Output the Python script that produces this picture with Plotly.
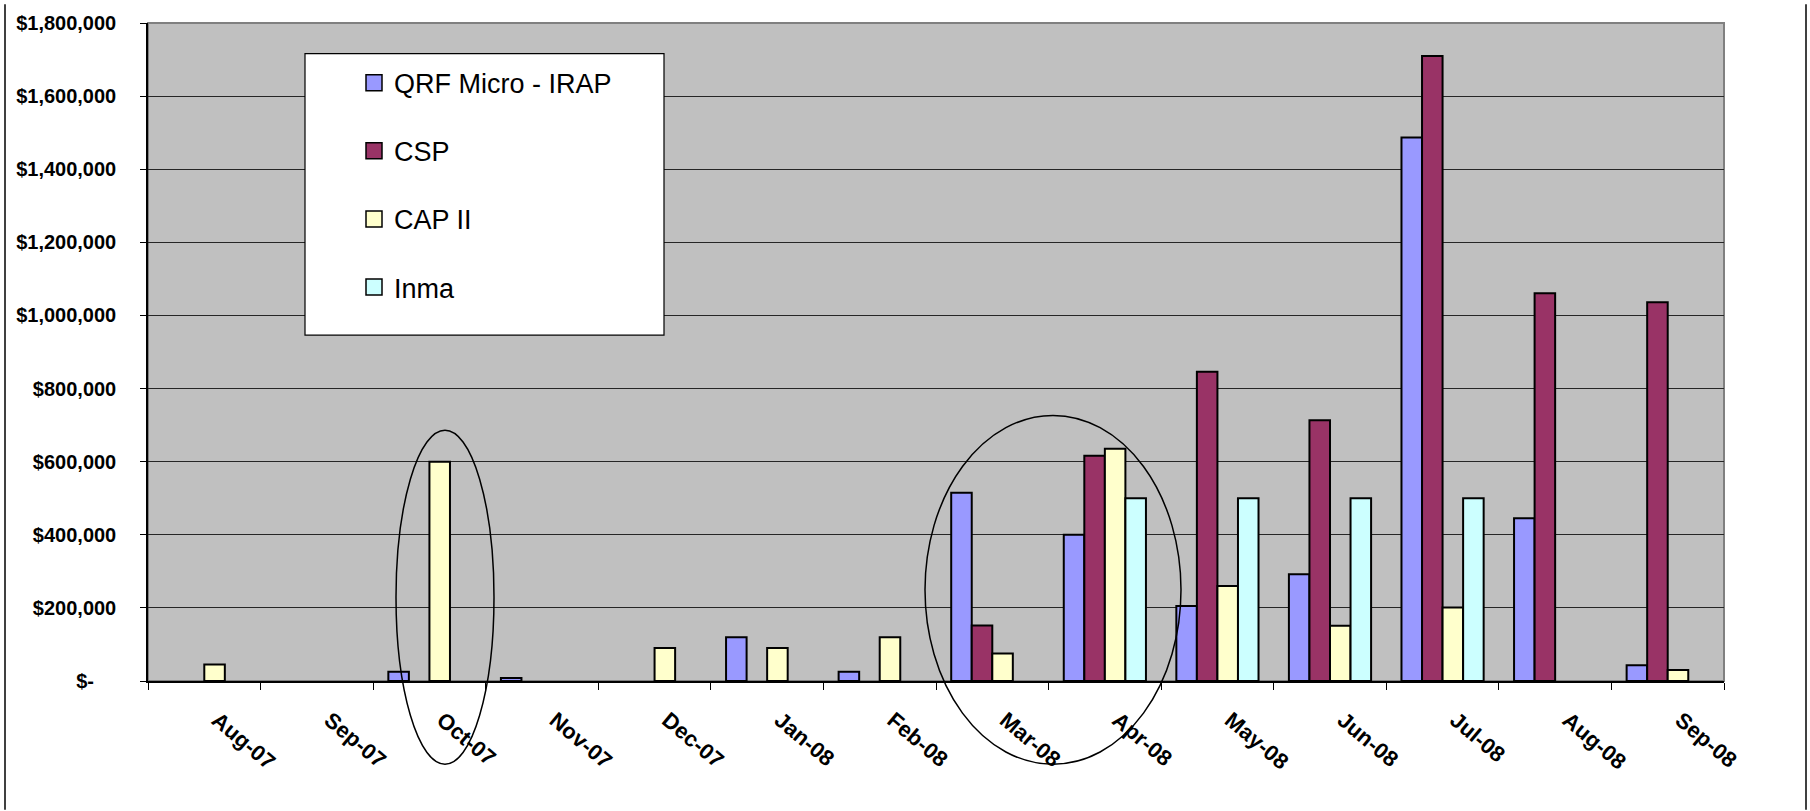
import plotly.graph_objects as go

months = ["Aug-07", "Sep-07", "Oct-07", "Nov-07", "Dec-07", "Jan-08", "Feb-08",
          "Mar-08", "Apr-08", "May-08", "Jun-08", "Jul-08", "Aug-08", "Sep-08"]

# None = no bar that month
qrf_irap = [None, None, 25000, 8000, None, 120000, 25000,
            515000, 400000, 205000, 292000, 1487000, 445000, 43000]
csp = [None, None, None, None, None, None, None,
       152000, 616000, 846000, 713000, 1710000, 1061000, 1036000]
cap_ii = [45000, None, 600000, None, 90000, 90000, 120000,
          75000, 635000, 260000, 151000, 201000, None, 30000]
inma = [None, None, None, None, None, None, None,
        None, 500000, 500000, 500000, 500000, None, None]

y_ticks = [0, 200000, 400000, 600000, 800000, 1000000, 1200000, 1400000, 1600000, 1800000]
y_labels = ["$-\u00a0\u00a0\u00a0\u00a0"] + [f"${v:,}" for v in y_ticks[1:]]

series = [
    ("QRF Micro - IRAP", qrf_irap, "#9999FF"),
    ("CSP", csp, "#993366"),
    ("CAP II", cap_ii, "#FFFFCC"),
    ("Inma", inma, "#CCFFFF"),
]

FONT = "Liberation Sans, Arial, sans-serif"

# plot area in pixels: x 148..1724, y 17..681
W, H = 1810, 811
L, R, T, B = 148, 1724, 17, 681


def px(x):
    return (x - L) / (R - L)


def py(y):
    return (B - y) / (B - T)


fig = go.Figure()

for name, vals, color in series:
    fig.add_trace(go.Bar(
        x=months, y=vals, name=name,
        marker=dict(color=color, line=dict(color="black", width=2)),
        legendgroup=name, showlegend=False,
    ))
    # legend swatch (bigger square than the default bar symbol)
    fig.add_trace(go.Scatter(
        x=[None], y=[None], mode="markers", name=name,
        marker=dict(symbol="square", size=16, color=color,
                    line=dict(color="black", width=1.5)),
        legendgroup=name, showlegend=True,
    ))

fig.update_layout(
    width=W, height=H,
    margin=dict(l=L, r=W - R, t=T, b=H - B),
    paper_bgcolor="white",
    plot_bgcolor="#C0C0C0",
    barmode="group",
    bargap=0.27,
    bargroupgap=0,
    showlegend=True,
    legend=dict(
        x=px(354), y=py(53), xanchor="left", yanchor="top",
        bgcolor="rgba(0,0,0,0)", borderwidth=0,
        font=dict(family=FONT, size=27, color="black"),
        tracegroupgap=30,
        itemsizing="trace",
    ),
    font=dict(family=FONT, color="black"),
)

fig.update_xaxes(
    type="category",
    showline=True, linecolor="black", linewidth=1.5,
    ticks="outside", tickson="boundaries", ticklen=7, tickcolor="black",
    tickangle=40,
    tickfont=dict(family=FONT, size=22, color="black", weight="bold"),
    ticklabelstandoff=16,
    ticklabelshift=13,
    showgrid=False,
)
fig.update_yaxes(
    range=[0, 1800000],
    tickvals=y_ticks, ticktext=y_labels,
    showline=True, linecolor="black", linewidth=1.5,
    ticks="outside", ticklen=6, tickcolor="black",
    tickfont=dict(family=FONT, size=20, color="black", weight="bold"),
    ticklabelstandoff=20,
    showgrid=True, gridcolor="#262626", gridwidth=1.3,
    zeroline=False,
)

# grey border on the plot area (top / right)
fig.add_shape(type="rect", xref="paper", yref="paper", x0=0, x1=1, y0=0, y1=1,
              line=dict(color="#808080", width=2), layer="below")

# legend box
fig.add_shape(type="rect", xref="paper", yref="paper",
              x0=px(305), x1=px(664), y0=py(332), y1=py(48),
              fillcolor="white", line=dict(color="black", width=1.2), layer="above")

# hand-drawn ellipses
fig.add_shape(type="circle", xref="paper", yref="paper",
              x0=px(396), x1=px(494), y0=py(765), y1=py(428),
              line=dict(color="black", width=1.5), layer="above")
fig.add_shape(type="circle", xref="paper", yref="paper",
              x0=px(925), x1=px(1181), y0=py(765), y1=py(413),
              line=dict(color="black", width=1.5), layer="above")

# outer frame lines
for xx in (5, 1806):
    fig.add_shape(type="line", xref="paper", yref="paper",
                  x0=px(xx), x1=px(xx), y0=py(811), y1=py(-2),
                  line=dict(color="black", width=1.5))

fig.write_html("out.html", config={"displayModeBar": False},
               post_script="document.body.style.margin='0';")
